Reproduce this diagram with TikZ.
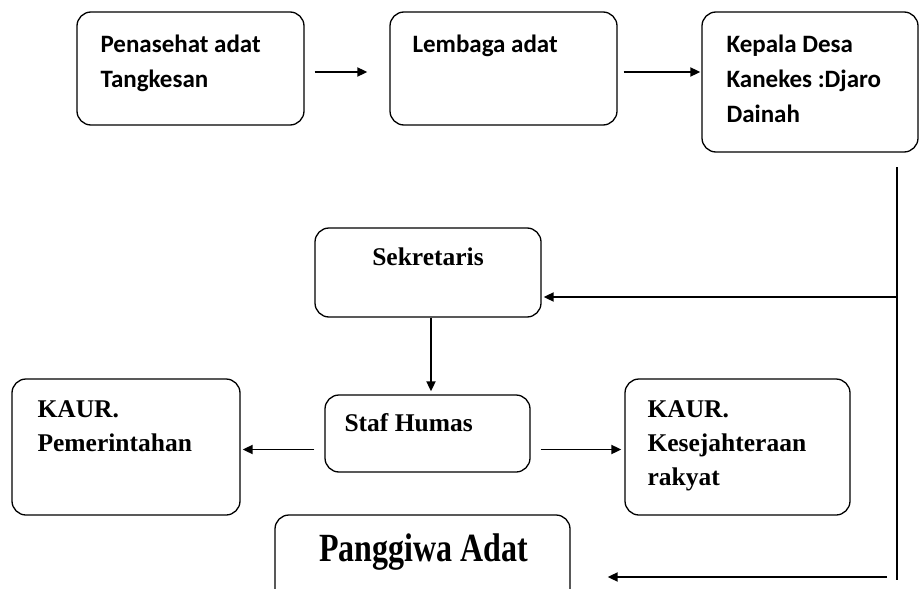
\documentclass[tikz,border=0pt]{standalone}
\usepackage{fontspec}
\usetikzlibrary{arrows.meta}
\newfontfamily\carlito{Carlito}
\newfontfamily\timesr{Liberation Serif}
\newfontfamily\timestall[FakeStretch=0.8]{Liberation Serif}
\begin{document}
\begin{tikzpicture}[x=1pt, y=-1pt,
	box/.style = {draw, rounded corners=14pt, line width=1.3pt, inner sep=0pt},
	arr/.style = {-{Triangle[length=10pt,width=9pt]}, line width=1.8pt},
	toptext/.style = {anchor=north west, inner sep=0pt, align=left,
		font=\carlito\bfseries\fontsize{25}{35}\selectfont},
	lowtext/.style = {anchor=north west, inner sep=0pt, align=left,
		font=\timesr\bfseries\fontsize{25.5}{34}\selectfont}]
	\clip (0,0) rectangle (919,589);
	% top row
	\node [box, minimum width=227pt, minimum height=113pt] (pen) at (190.5,68.5) {};
	\node [box, minimum width=227pt, minimum height=113pt] (lem) at (503.5,68.5) {};
	\node [box, minimum width=216pt, minimum height=140pt] (kep) at (810,82) {};
	\node [toptext] (pentxt) at ([xshift=24pt,yshift=-23pt]pen.north west) {Penasehat adat\\Tangkesan};
	\node [toptext] (lemtxt) at ([xshift=23pt,yshift=-23pt]lem.north west) {Lembaga adat};
	\node [toptext] (keptxt) at ([xshift=25pt,yshift=-23pt]kep.north west) {Kepala Desa\\Kanekes :Djaro\\Dainah};
	% lower part
	\node [box, minimum width=226pt, minimum height=89pt] (sek) at (428,272.5) {};
	\node [box, minimum width=205pt, minimum height=77pt] (staf) at (427.5,433.5) {};
	\node [box, minimum width=228pt, minimum height=136pt] (kaura) at (126,447) {};
	\node [box, minimum width=225pt, minimum height=136pt] (kaurb) at (737.5,447) {};
	\node [box, minimum width=295pt, minimum height=90pt] (pang) at (422.5,560) {};
	\node [lowtext, anchor=north] (sektxt) at ([yshift=-20pt]sek.north) {Sekretaris};
	\node [lowtext] (staftxt) at ([xshift=20pt,yshift=-19pt]staf.north west) {Staf Humas};
	\node [lowtext] (kauratxt) at ([xshift=26pt,yshift=-22pt]kaura.north west) {KAUR.\\Pemerintahan};
	\node [lowtext] (kaurbtxt) at ([xshift=23pt,yshift=-22pt]kaurb.north west) {KAUR.\\Kesejahteraan\\rakyat};
	\node [lowtext, anchor=north, font=\timestall\bfseries\fontsize{40}{46}\selectfont] (pangtxt) at ([xshift=1pt,yshift=-19pt]pang.north) {Panggiwa Adat};
	% connectors
	\draw [arr] ([xshift=10pt,yshift=-3.5pt]pen.east) -- ([xshift=-22pt,yshift=-3.5pt]lem.west);
	\draw [arr] ([xshift=6pt,yshift=-3.5pt]lem.east) -- ([xshift=-1pt,yshift=-3.5pt]lem.east -| kep.west);
	\coordinate (rtop) at (897,167);
	\coordinate (rmid) at (897,297);
	\coordinate (rbot) at (897,580);
	\coordinate (rarr) at (887,577);
	\draw [line width=1.8pt] (rtop) -- (rbot);
	\draw [arr] (rmid) -- ([xshift=2pt]rmid -| sek.east);
	\draw [arr] ([xshift=3pt]sek.south) -- ([xshift=3pt,yshift=3pt]sek.south |- staf.north);
	\draw [arr] ([xshift=-10pt,yshift=-16pt]staf.west) coordinate (sl) -- ([xshift=2pt]sl -| kaura.east);
	\draw [arr] ([xshift=10pt,yshift=-16pt]staf.east) coordinate (sr) -- ([xshift=-3pt]sr -| kaurb.west);
	\draw [arr] (rarr) -- ([xshift=37pt]rarr -| pang.east);
\end{tikzpicture}
\end{document}
